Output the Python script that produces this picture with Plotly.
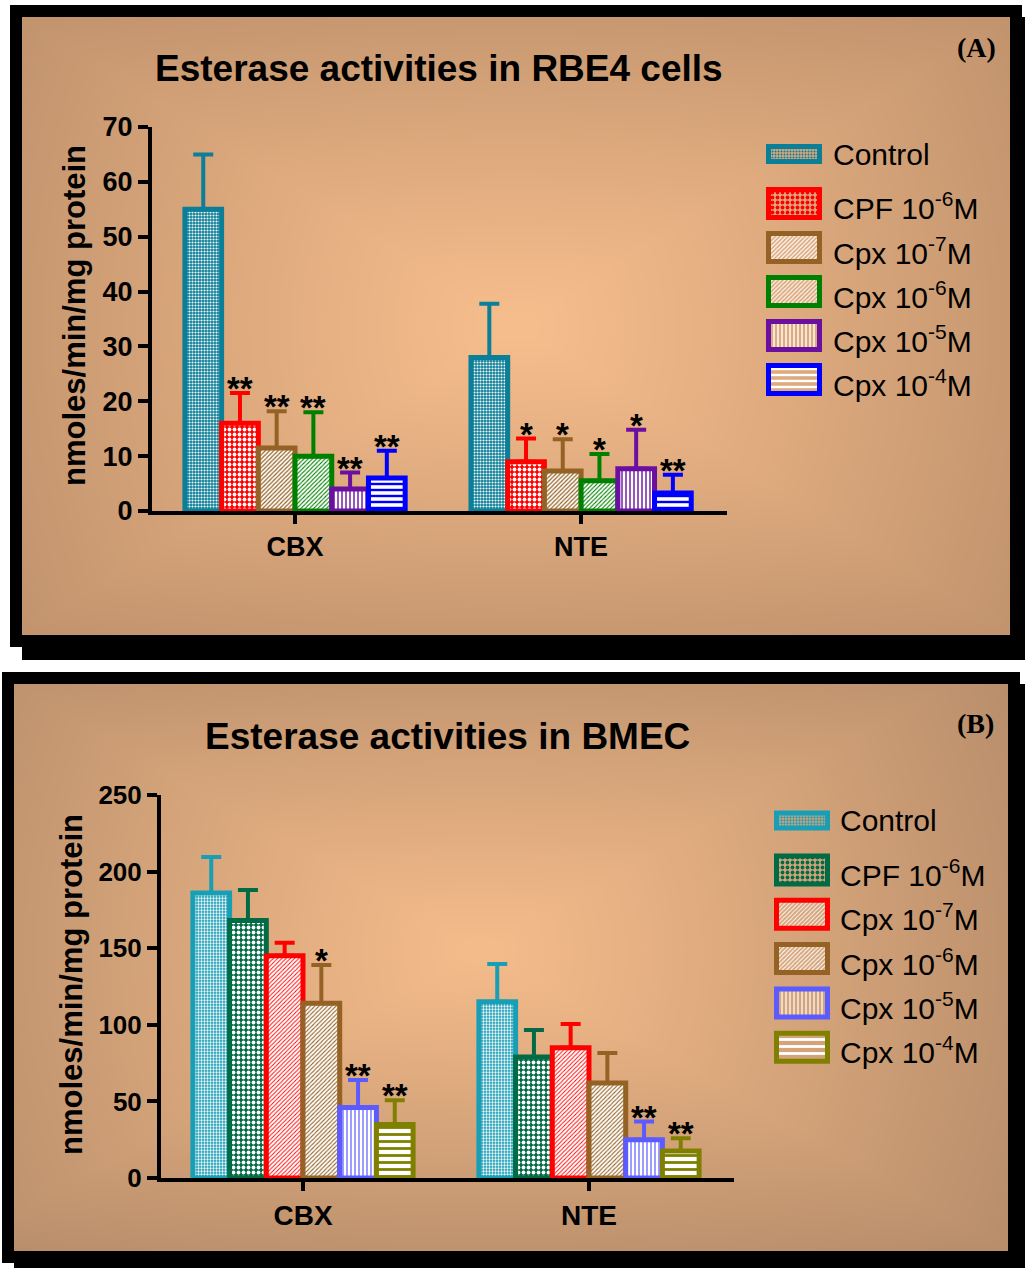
import numpy as np
import zlib, struct, base64
import plotly.graph_objects as go

W, H = 1025, 1268

# ---------------- data ----------------
categories = ["CBX", "NTE"]
series_a = ["Control", "CPF 10<sup>-6</sup>M", "Cpx 10<sup>-7</sup>M", "Cpx 10<sup>-6</sup>M",
            "Cpx 10<sup>-5</sup>M", "Cpx 10<sup>-4</sup>M"]
cbx_a = [55, 16, 11.5, 10, 4, 6]
cbx_a_err = [10, 5.5, 6.7, 8, 3, 5]
nte_a = [28, 9, 7.3, 5.5, 7.7, 3.3]
nte_a_err = [9.8, 4.2, 5.8, 4.9, 7.1, 3.3]
cbx_a_sig = ["", "**", "**", "**", "**", "**"]
nte_a_sig = ["", "*", "*", "*", "*", "**"]

series_b = ["Control", "CPF 10<sup>-6</sup>M", "Cpx 10<sup>-7</sup>M", "Cpx 10<sup>-6</sup>M",
            "Cpx 10<sup>-5</sup>M", "Cpx 10<sup>-4</sup>M"]
cbx_b = [186, 168, 145, 114, 46, 35]
cbx_b_err = [23.5, 20, 8.5, 25, 18, 15.7]
nte_b = [115, 79, 85, 62, 25, 17.6]
nte_b_err = [24.7, 17.6, 15.5, 19.6, 11.8, 8.4]
cbx_b_sig = ["", "", "", "*", "**", "**"]
nte_b_sig = ["", "", "", "", "**", "**"]

yticks_a = [0, 10, 20, 30, 40, 50, 60, 70]
yticks_b = [0, 50, 100, 150, 200, 250]

title_a = "Esterase activities in RBE4 cells"
title_b = "Esterase activities in BMEC"
ytitle = "nmoles/min/mg protein"

# ---------------- styles ----------------
colors_a = ["#0B7E98", "#FF0000", "#946224", "#008000", "#6B0FA0", "#0000FF"]
pat_a = [(".", "white", "#0B7E98", 3, 0.4),
         (".", "white", "#FF0000", 5, 0.45),
         ("/", "#946224", "white", 3, 0.4),
         ("/", "#008000", "white", 3, 0.35),
         ("|", "#6B0FA0", "white", 4, 0.35),
         ("-", "#0000FF", "white", 6, 0.4)]
colors_b = ["#189FB6", "#006B45", "#FF0000", "#946224", "#5B5BFF", "#808000"]
pat_b = [(".", "white", "#189FB6", 3, 0.45),
         (".", "white", "#006B45", 5, 0.45),
         ("/", "#FF0000", "white", 3, 0.3),
         ("/", "#946224", "white", 3, 0.35),
         ("|", "#5B5BFF", "white", 4, 0.3),
         ("-", "#808000", "white", 7, 0.4)]

FONT = "Liberation Sans"
BARGAP = 0.23
NS = 6
W_BAR = (1 - BARGAP) / NS


def X(p):
    return p / W


def Y(p):
    return 1 - p / H


# ---------------- gradient background ----------------
def png_uri(arr):
    h, w, _ = arr.shape
    raw = b"".join(b"\x00" + arr[j].tobytes() for j in range(h))

    def chunk(tag, data):
        c = struct.pack(">I", len(data)) + tag + data
        return c + struct.pack(">I", zlib.crc32(tag + data) & 0xFFFFFFFF)

    png = (b"\x89PNG\r\n\x1a\n" + chunk(b"IHDR", struct.pack(">IIBBBBB", w, h, 8, 2, 0, 0, 0))
           + chunk(b"IDAT", zlib.compress(raw, 9)) + chunk(b"IEND", b""))
    return "data:image/png;base64," + base64.b64encode(png).decode()


def gradient(w, h, cx, cy, c0, c1):
    xs = (np.arange(w) + 0.5) / w
    ys = (np.arange(h) + 0.5) / h
    gx, gy = np.meshgrid(xs, ys)
    dx = np.abs(gx - cx) / max(cx, 1 - cx)
    dy = np.abs(gy - cy) / max(cy, 1 - cy)
    t = 0.65 * np.maximum(dx, dy) + 0.35 * np.sqrt((dx ** 2 + dy ** 2) / 2)
    t = np.clip(t, 0, 1) ** 1.1
    c0 = np.array(c0, float)
    c1 = np.array(c1, float)
    img = c0[None, None, :] + (c1 - c0)[None, None, :] * t[..., None]
    return np.clip(img, 0, 255).astype(np.uint8)


fig = go.Figure()

# ---------------- bars ----------------
def add_panel(vals_c, errs_c, vals_n, errs_n, names, colors, pats, xa, ya):
    for i in range(NS):
        shp, fg, bg, sz, sol = pats[i]
        fig.add_trace(go.Bar(
            x=[0, 1], y=[vals_c[i], vals_n[i]], name=names[i],
            xaxis=xa, yaxis=ya, showlegend=False,
            marker=dict(color=bg, line=dict(color=colors[i], width=5),
                        pattern=dict(shape=shp, fgcolor=fg, bgcolor=bg, size=sz,
                                     solidity=sol, fillmode="replace")),
            error_y=dict(type="data", symmetric=False, array=[errs_c[i], errs_n[i]],
                         arrayminus=[0, 0], color=colors[i], thickness=4, width=10),
        ))


add_panel(cbx_a, cbx_a_err, nte_a, nte_a_err, series_a, colors_a, pat_a, "x", "y")
add_panel(cbx_b, cbx_b_err, nte_b, nte_b_err, series_b, colors_b, pat_b, "x2", "y2")

# ---------------- legend swatches (aux pixel axis) ----------------
leg_a_first, leg_a_step, leg_a_x = 154, 44, 768.5
leg_b_first, leg_b_step, leg_b_x = 820.5, 44.3, 776.5
leg_y, leg_w, leg_base, leg_len = [], [], [], []
leg_line, leg_shape, leg_fg, leg_bg, leg_size, leg_sol = [], [], [], [], [], []
leg_text = []
for first, step, x0, cols, pats, names, tx in [
        (leg_a_first, leg_a_step, leg_a_x, colors_a, pat_a, series_a, 831),
        (leg_b_first, leg_b_step, leg_b_x, colors_b, pat_b, series_b, 838)]:
    for i in range(NS):
        yc = first if i == 0 else first + 49.5 + (i - 1) * step
        leg_y.append(yc)
        leg_w.append(15 if i == 0 else 28)
        leg_base.append(x0)
        leg_len.append(51)
        leg_line.append(cols[i])
        shp, fg, bg, sz, sol = pats[i]
        leg_shape.append(shp)
        leg_fg.append(fg)
        leg_bg.append(bg)
        leg_size.append(sz)
        leg_sol.append(sol)
        leg_text.append((tx, yc + (0 if i == 0 else 3), names[i]))

fig.add_trace(go.Bar(
    orientation="h", y=leg_y, x=leg_len, base=leg_base, width=leg_w,
    xaxis="x3", yaxis="y3", showlegend=False, hoverinfo="skip",
    marker=dict(color=leg_bg, line=dict(color=leg_line, width=5),
                pattern=dict(shape=leg_shape, fgcolor=leg_fg, bgcolor=leg_bg,
                             size=leg_size, solidity=leg_sol, fillmode="replace")),
))

# ---------------- layout ----------------
def xaxis_cfg(d0, d1, r0, r1, anchor, size):
    return dict(domain=[X(d0), X(d1)], range=[r0, r1], anchor=anchor, automargin=False,
                tickmode="array", tickvals=[0, 1], ticktext=categories,
                ticks="outside", ticklen=9, tickwidth=4, tickcolor="black",
                showline=True, linewidth=4, linecolor="black",
                showgrid=False, zeroline=False, fixedrange=True,
                tickfont=dict(family=FONT, size=size, color="black", weight="bold"))


def yaxis_cfg(d_bottom, d_top, rmax, ticks, anchor, size):
    return dict(domain=[Y(d_bottom), Y(d_top)], range=[0, rmax], anchor=anchor, automargin=False,
                tickmode="array", tickvals=ticks, ticktext=[str(t) for t in ticks],
                ticks="outside", ticklen=10, tickwidth=4, tickcolor="black",
                showline=True, linewidth=4, linecolor="black",
                showgrid=False, zeroline=False, fixedrange=True,
                tickfont=dict(family=FONT, size=size, color="black", weight="bold"))


annotations = []
# titles
annotations.append(dict(x=X(439), y=Y(68), xref="paper", yref="paper", text=title_a,
                        showarrow=False, xanchor="center", yanchor="middle",
                        font=dict(family=FONT, size=37, color="black", weight="bold")))
annotations.append(dict(x=X(447), y=Y(736), xref="paper", yref="paper", text=title_b,
                        showarrow=False, xanchor="center", yanchor="middle",
                        font=dict(family=FONT, size=37, color="black", weight="bold")))
annotations.append(dict(x=X(976), y=Y(48), xref="paper", yref="paper", text="(A)",
                        showarrow=False, xanchor="center", yanchor="middle",
                        font=dict(family="Liberation Serif", size=28, color="black", weight="bold")))
annotations.append(dict(x=X(975), y=Y(723), xref="paper", yref="paper", text="(B)",
                        showarrow=False, xanchor="center", yanchor="middle",
                        font=dict(family="Liberation Serif", size=28, color="black", weight="bold")))
# y titles
annotations.append(dict(x=X(74), y=Y(316), xref="paper", yref="paper", text=ytitle,
                        textangle=-90, showarrow=False, xanchor="center", yanchor="middle",
                        font=dict(family=FONT, size=31, color="black", weight="bold")))
annotations.append(dict(x=X(71), y=Y(985), xref="paper", yref="paper", text=ytitle,
                        textangle=-90, showarrow=False, xanchor="center", yanchor="middle",
                        font=dict(family=FONT, size=31, color="black", weight="bold")))
# legend texts
for tx, yc, name in leg_text:
    annotations.append(dict(x=X(tx), y=Y(yc), xref="paper", yref="paper", text=name,
                            showarrow=False, xanchor="left", yanchor="middle",
                            font=dict(family=FONT, size=30, color="black")))
# significance stars
for vals_c, errs_c, sig_c, vals_n, errs_n, sig_n, xr, yr in [
        (cbx_a, cbx_a_err, cbx_a_sig, nte_a, nte_a_err, nte_a_sig, "x", "y"),
        (cbx_b, cbx_b_err, cbx_b_sig, nte_b, nte_b_err, nte_b_sig, "x2", "y2")]:
    for ci, (vals, errs, sig) in enumerate([(vals_c, errs_c, sig_c), (vals_n, errs_n, sig_n)]):
        for i in range(NS):
            if sig[i]:
                annotations.append(dict(x=ci + (i - (NS - 1) / 2) * W_BAR, y=vals[i] + errs[i],
                                        xref=xr, yref=yr, text=sig[i], showarrow=False,
                                        xanchor="center", yanchor="bottom", yshift=-16,
                                        font=dict(family=FONT, size=33, color="black",
                                                  weight="bold")))

# backgrounds
img_a = png_uri(gradient(494, 309, 0.5, 0.5, (247, 190, 141), (194, 148, 110)))
img_b = png_uri(gradient(497, 284, 0.47, 0.47, (245, 188, 139), (184, 142, 107)))
images = [
    dict(source=img_a, xref="paper", yref="paper", x=X(22), y=Y(17),
         sizex=X(1010) - X(22), sizey=Y(17) - Y(635), sizing="stretch",
         xanchor="left", yanchor="top", layer="below"),
    dict(source=img_b, xref="paper", yref="paper", x=X(14), y=Y(684),
         sizex=X(1008) - X(14), sizey=Y(684) - Y(1251), sizing="stretch",
         xanchor="left", yanchor="top", layer="below"),
]

shapes = []
for (l, t, r, b) in [(22, 17, 1010, 635), (14, 684, 1008, 1251)]:
    shapes.append(dict(type="rect", xref="paper", yref="paper",
                       x0=X(l - 6), x1=X(r + 6), y0=Y(t - 6), y1=Y(b + 6),
                       line=dict(color="black", width=12), fillcolor="rgba(0,0,0,0)",
                       layer="above"))
    # drop shadow
    shapes.append(dict(type="rect", xref="paper", yref="paper",
                       x0=X(l), x1=X(r + 24), y0=Y(b + 12), y1=Y(b + 25),
                       line=dict(width=0), fillcolor="black", layer="above"))
    shapes.append(dict(type="rect", xref="paper", yref="paper",
                       x0=X(r + 12), x1=X(r + 24), y0=Y(t), y1=Y(b + 25),
                       line=dict(width=0), fillcolor="black", layer="above"))

fig.update_layout(
    template="none",
    width=W, height=H, autosize=False,
    margin=dict(l=0, r=0, t=0, b=0, pad=0, autoexpand=False),
    paper_bgcolor="white", plot_bgcolor="rgba(0,0,0,0)",
    barmode="group", bargap=BARGAP, bargroupgap=0,
    showlegend=False,
    xaxis=xaxis_cfg(152, 727, -0.5, 1.51, "y", 27),
    yaxis=yaxis_cfg(511, 127, 70, yticks_a, "x", 27),
    xaxis2=xaxis_cfg(161, 734, -0.4965, 1.507, "y2", 28),
    yaxis2=yaxis_cfg(1178, 795, 250, yticks_b, "x2", 26),
    xaxis3=dict(domain=[0, 1], range=[0, W], visible=False, anchor="y3", fixedrange=True,
                automargin=False),
    yaxis3=dict(domain=[0, 1], range=[H, 0], visible=False, anchor="x3", fixedrange=True,
                automargin=False),
    annotations=annotations, images=images, shapes=shapes,
    font=dict(family=FONT, color="black"),
)

post = ("document.documentElement.style.margin='0';document.documentElement.style.padding='0';"
        "document.body.style.margin='0';document.body.style.padding='0';"
        "document.body.style.overflow='hidden';"
        "var gd=document.getElementById('{plot_id}');"
        "gd.style.position='absolute';gd.style.left='0px';gd.style.top='0px';")

fig.write_html("out.html", post_script=post, config={"displayModeBar": False})
